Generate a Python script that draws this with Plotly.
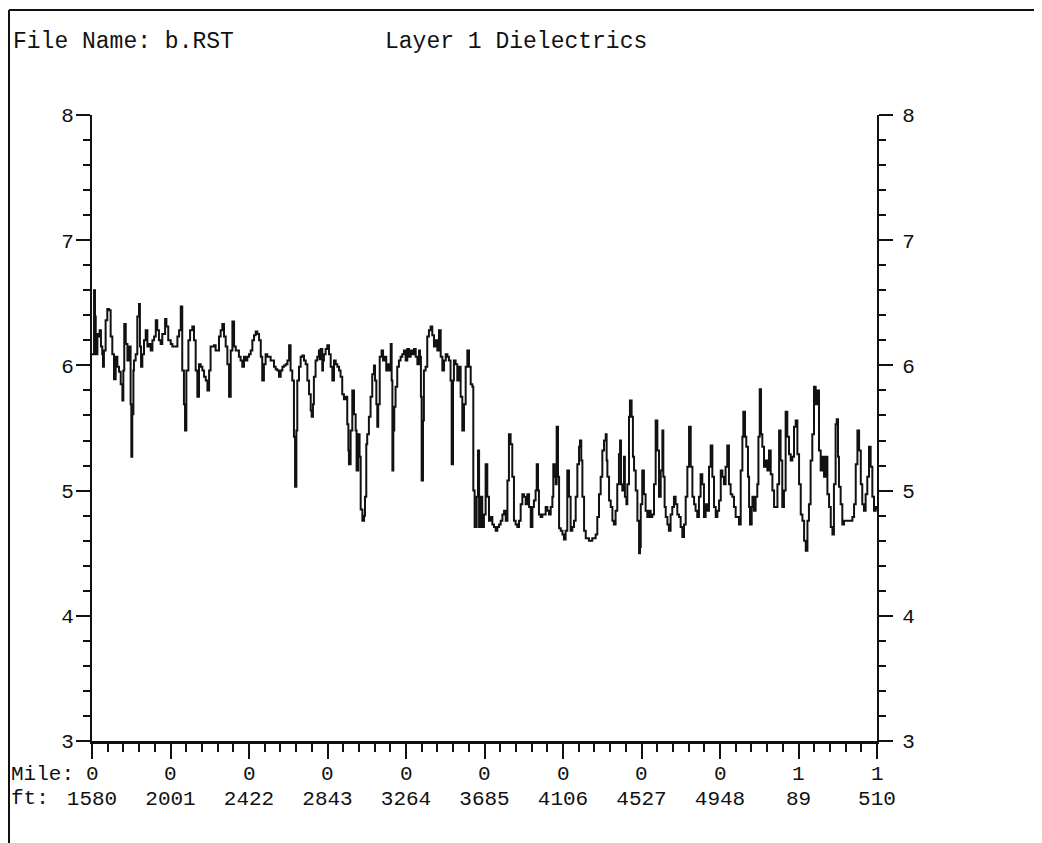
import plotly.graph_objects as go

# ---------------- data ----------------
distance_ft = [
    1580, 1591, 1596, 1600, 1609, 1618, 1621, 1628, 1635, 1639,
    1644, 1653, 1662, 1671, 1680, 1689, 1698, 1707, 1716, 1725,
    1734, 1743, 1748, 1753, 1761, 1770, 1778, 1787, 1791, 1796,
    1802, 1805, 1814, 1823, 1832, 1837, 1843, 1850, 1859, 1868,
    1877, 1886, 1895, 1904, 1913, 1922, 1930, 1939, 1948, 1957,
    1972, 1979, 1989, 2002, 2011, 2020, 2029, 2038, 2047, 2056,
    2064, 2073, 2079, 2086, 2097, 2106, 2118, 2127, 2136, 2145,
    2154, 2163, 2172, 2181, 2190, 2199, 2208, 2216, 2225, 2234,
    2243, 2252, 2261, 2270, 2279, 2288, 2297, 2306, 2315, 2324,
    2333, 2342, 2351, 2359, 2368, 2377, 2386, 2395, 2404, 2413,
    2422, 2431, 2440, 2449, 2458, 2467, 2476, 2485, 2493, 2502,
    2511, 2520, 2529, 2538, 2547, 2556, 2565, 2574, 2583, 2592,
    2601, 2610, 2619, 2628, 2637, 2645, 2654, 2663, 2669, 2676,
    2681, 2690,
    2699, 2708, 2717, 2726, 2735, 2744, 2753, 2758, 2765, 2770,
    2779, 2788, 2797, 2801, 2806, 2815, 2819, 2824, 2833, 2842,
    2851, 2860, 2869, 2878, 2887, 2896, 2905, 2913, 2922, 2931,
    2940, 2949, 2955, 2958, 2967, 2976, 2985, 2994, 2999, 3008,
    3015, 3021, 3030, 3039, 3044, 3051, 3056, 3065, 3074, 3083,
    3092, 3098, 3105, 3110, 3115, 3123, 3133, 3141, 3151, 3158,
    3166, 3173, 3182, 3187, 3191, 3196, 3201, 3208, 3217, 3226,
    3235, 3244, 3253, 3262, 3271, 3280, 3289, 3298, 3307, 3316,
    3325, 3334, 3339, 3344, 3348, 3355, 3360, 3369, 3378, 3387,
    3396, 3405, 3414, 3423, 3432, 3441, 3450, 3459, 3468, 3477,
    3486, 3494, 3503, 3509, 3516, 3521, 3530, 3539, 3548, 3557,
    3566, 3575, 3584, 3593, 3602, 3611, 3620,
    3625, 3632, 3638, 3643, 3650, 3656, 3665, 3673, 3682, 3691,
    3700, 3709, 3718, 3727, 3736, 3745, 3754, 3763, 3772, 3781,
    3790, 3799, 3808, 3816, 3825, 3834, 3843, 3852, 3861, 3870,
    3879, 3888, 3897, 3906, 3915, 3924, 3933, 3942, 3950, 3959,
    3965, 3972, 3977, 3986, 3995, 4004, 4013, 4022, 4031, 4040,
    4049, 4054, 4061, 4067, 4072, 4079, 4085, 4094, 4103, 4111,
    4120, 4129, 4138, 4147, 4156, 4165, 4174, 4183, 4192, 4197,
    4204, 4210, 4219, 4228, 4245, 4263, 4281, 4290, 4299, 4308,
    4317, 4326, 4335, 4340, 4344, 4353, 4362, 4371, 4379, 4388,
    4397, 4406, 4412, 4417, 4424, 4433, 4438, 4446, 4451, 4460,
    4465, 4474, 4481, 4487, 4496, 4505, 4514, 4519, 4523, 4531,
    4540, 4549, 4558, 4567, 4576, 4585, 4594, 4603, 4612, 4621,
    4630, 4639, 4644, 4651, 4657, 4666, 4674, 4683, 4692, 4701,
    4710, 4719, 4728, 4737, 4746, 4755, 4764, 4773, 4782, 4791,
    4800, 4809, 4817, 4826, 4835, 4844, 4853, 4862, 4871, 4880,
    4889, 4898, 4907, 4916, 4925, 4934, 4943, 4952, 4961, 4969,
    4978, 4987, 4996, 5005, 5014, 5023, 5032, 5041, 5050,
    5059, 5068, 5073, 5082, 5089, 5098, 5104, 5109, 5118, 5122,
    5130, 5139, 5148, 5154, 5161, 5168, 5175, 5184, 5193, 5202,
    5211, 5220, 5229, 5238, 5247, 5256, 5265, 5273, 5282, 5291,
    5300, 5309, 5318, 5327, 5336, 5345, 5354, 5363, 5372, 5381,
    5390, 5399, 5408, 5417, 5425, 5434, 5443, 5452, 5461, 5470,
    5479, 5488, 5497, 5506, 5515, 5524, 5533, 5542, 5551, 5559,
    5568, 5574, 5581, 5586, 5595, 5604, 5613, 5622, 5640, 5658,
    5667, 5676, 5685, 5694, 5703, 5711, 5720, 5729, 5738, 5747,
    5756, 5765, 5774, 5783, 5790,
]

dielectric = [
    6.09, 6.60, 6.39, 6.09, 6.25, 6.23, 6.28, 6.15, 6.09, 5.99,
    6.12, 6.36, 6.45, 6.44, 6.23, 6.09, 5.89, 6.07, 5.99, 5.95,
    5.85, 5.72, 5.96, 6.33, 6.17, 6.04, 6.15, 5.69, 5.27, 5.61,
    5.96, 6.04, 6.09, 6.39, 6.49, 6.15, 5.99, 6.09, 6.20, 6.28,
    6.15, 6.17, 6.12, 6.20, 6.23, 6.36, 6.28, 6.20, 6.17, 6.25,
    6.37, 6.31, 6.20, 6.17, 6.15, 6.15, 6.15, 6.23, 6.28, 6.47,
    5.96, 5.69, 5.48, 5.96, 6.20, 6.28, 6.31, 6.20, 5.96, 5.75,
    6.01, 5.99, 5.96, 5.91, 5.88, 5.80, 5.96, 6.15, 6.15, 6.16,
    6.12, 6.12, 6.23, 6.28, 6.33, 6.23, 6.15, 6.01, 5.75, 6.12,
    6.35, 6.15, 6.12, 6.12, 6.07, 6.04, 5.99, 6.07, 6.04, 6.07,
    6.09, 6.12, 6.20, 6.24, 6.27, 6.25, 6.20, 6.07, 5.88, 6.01,
    6.09, 6.07, 6.07, 6.04, 6.04, 5.99, 5.97, 5.96, 5.91, 5.96,
    5.99, 6.00, 6.01, 6.04, 6.16, 5.96, 5.88, 5.43, 5.03, 5.48,
    5.88, 5.99,
    6.07, 6.08, 6.04, 6.01, 5.88, 5.77, 5.64, 5.59, 5.69, 5.91,
    6.04, 6.07, 6.12, 6.05, 6.13, 5.96, 6.04, 6.09, 6.13, 6.16,
    6.09, 5.99, 5.88, 6.04, 6.01, 5.99, 5.96, 5.91, 5.77, 5.73,
    5.75, 5.53, 5.32, 5.21, 5.48, 5.80, 5.61, 5.48, 5.16, 5.45,
    5.27, 4.85, 4.76, 4.80, 4.95, 5.37, 5.45, 5.59, 5.75, 5.93,
    6.00, 5.88, 5.69, 5.51, 5.69, 6.07, 6.12, 6.04, 6.07, 5.96,
    6.01, 5.96, 6.17, 5.88, 5.16, 5.48, 5.67, 5.83, 5.99, 6.04,
    6.07, 6.09, 6.12, 6.04, 6.13, 6.07, 6.12, 6.09, 6.13, 6.07,
    6.01, 6.12, 6.07, 5.75, 5.08, 5.56, 5.96, 5.99, 6.23, 6.28,
    6.31, 6.24, 6.15, 6.20, 6.12, 6.28, 6.07, 5.96, 6.04, 6.09,
    6.07, 6.04, 5.88, 5.21, 5.88, 6.04, 6.01, 5.88, 5.99, 5.75,
    5.48, 5.69, 5.99, 6.12, 5.99, 5.85, 5.83,
    5.00, 4.71, 4.71, 4.95, 5.32, 4.71, 4.95, 4.71, 4.81, 5.21,
    4.95, 4.76, 4.79, 4.73, 4.71, 4.68, 4.71, 4.73, 4.76, 4.81,
    4.84, 4.76, 5.08, 5.45, 5.37, 5.11, 4.76, 4.73, 4.71, 4.76,
    4.89, 4.97, 4.95, 4.89, 4.97, 4.87, 4.71, 4.87, 4.92, 5.00,
    5.21, 5.00, 4.81, 4.79, 4.81, 4.81, 4.87, 4.84, 4.81, 4.87,
    4.95, 5.21, 5.11, 5.05, 5.51, 5.11, 4.70, 4.68, 4.65, 4.61,
    4.68, 5.16, 4.95, 4.68, 4.71, 4.76, 4.95, 5.21, 5.35, 5.40,
    5.24, 4.95, 4.68, 4.62, 4.60, 4.62, 4.65, 4.79, 4.97, 5.11,
    5.32, 5.40, 5.45, 5.24, 5.11, 4.92, 4.87, 4.76, 4.73, 4.84,
    5.05, 5.29, 5.40, 5.05, 5.00, 5.27, 4.95, 4.89, 5.05, 5.59,
    5.72, 5.59, 5.27, 5.16, 5.00, 4.76, 4.50, 4.55, 4.89, 5.16,
    4.97, 4.84, 4.79, 4.84, 4.79, 4.81, 5.05, 5.56, 5.32, 4.95,
    5.16, 5.48, 5.11, 4.87, 4.79, 4.73, 4.68, 4.81, 4.87, 4.95,
    4.89, 4.81, 4.79, 4.71, 4.63, 4.73, 4.95, 5.19, 5.51, 5.19,
    4.95, 4.89, 4.84, 4.79, 4.95, 5.13, 5.05, 4.79, 4.89, 4.84,
    5.19, 5.36, 5.11, 4.87, 4.79, 4.84, 4.92, 5.16, 5.11, 5.05,
    5.19, 5.36, 5.05, 4.97, 4.95, 4.87, 4.79, 4.79, 4.73,
    5.16, 5.43, 5.63, 5.43, 5.35, 5.11, 4.87, 4.73, 4.87, 4.95,
    4.84, 4.95, 5.05, 5.43, 5.81, 5.45, 5.35, 5.19, 5.24, 5.16,
    5.32, 5.13, 5.00, 4.87, 4.87, 5.05, 5.48, 5.24, 4.87, 5.00,
    5.63, 5.43, 5.29, 5.24, 5.27, 5.51, 5.56, 5.29, 5.05, 4.81,
    4.76, 4.60, 4.52, 4.76, 4.89, 5.24, 5.45, 5.83, 5.69, 5.80,
    5.32, 5.16, 5.27, 5.11, 5.27, 4.97, 4.87, 4.71, 4.65, 5.05,
    5.53, 5.57, 5.27, 5.03, 4.89, 4.73, 4.76, 4.76, 4.76, 4.79,
    4.89, 5.21, 5.48, 5.32, 5.05, 4.89, 4.84, 4.97, 5.11, 5.35,
    5.19, 4.95, 4.84, 4.87, 4.85,
]
assert len(distance_ft) == len(dielectric), (len(distance_ft), len(dielectric))

tick_ft = [1580, 2001, 2422, 2843, 3264, 3685, 4106, 4527, 4948, 5369, 5790]
tick_mile_labels = ["0", "0", "0", "0", "0", "0", "0", "0", "0", "1", "1"]
tick_ft_labels = ["1580", "2001", "2422", "2843", "3264", "3685",
                  "4106", "4527", "4948", "89", "510"]
y_range = [3, 8]

title_file = "File Name: b.RST"
title_layer = "Layer 1 Dielectrics"

# ---------------- styling ----------------
FONT = "Liberation Mono"
FS = 21
FS_TITLE = 23
INK = "#111111"
W, H = 1042, 843
OFF = 8  # page body margin offset
# target page positions of the plot area
PAGE_L, PAGE_R, PAGE_T, PAGE_B = 92, 877, 115, 741
L = PAGE_L - OFF
R = W - (PAGE_R - OFF)
T = PAGE_T - OFF
B = H - (PAGE_B - OFF)
PW, PH = W - L - R, H - T - B


def px_x(px):
    """page x pixel -> paper coordinate"""
    return (px - OFF - L) / PW


def px_y(py):
    """page y pixel -> paper coordinate"""
    return (H - B - (py - OFF)) / PH


step = (tick_ft[1] - tick_ft[0]) / 5
minor_x = [tick_ft[0] + i * step for i in range(int(round((tick_ft[-1] - tick_ft[0]) / step)) + 1)]

fig = go.Figure()
fig.add_trace(go.Scatter(
    x=distance_ft, y=dielectric, mode="lines",
    line=dict(color=INK, width=2, shape="hv"),
    showlegend=False, hoverinfo="skip",
))
# empty trace so that the right-hand axis is drawn
fig.add_trace(go.Scatter(x=[], y=[], yaxis="y2", mode="lines",
                         showlegend=False, hoverinfo="skip"))

yaxis_common = dict(
    range=y_range, tickmode="linear", tick0=3, dtick=1,
    ticks="outside", ticklen=14, tickwidth=2, tickcolor=INK,
    showline=True, linecolor=INK, linewidth=2,
    showgrid=False, zeroline=False,
    tickfont=dict(family=FONT, size=FS, color=INK),
    minor=dict(ticks="outside", ticklen=7, tickwidth=2, tickcolor=INK,
               tick0=3, dtick=0.2, showgrid=False),
)

fig.update_layout(
    width=W, height=H,
    margin=dict(l=L, r=R, t=T, b=B, pad=0),
    paper_bgcolor="white", plot_bgcolor="white",
    showlegend=False,
    xaxis=dict(
        range=[tick_ft[0], tick_ft[-1]],
        tickmode="array", tickvals=tick_ft, ticktext=tick_ft_labels,
        ticks="outside", ticklen=15, tickwidth=2, tickcolor=INK,
        showline=True, linecolor=INK, linewidth=3,
        showgrid=False, zeroline=False,
        tickfont=dict(family=FONT, size=FS, color=INK),
        ticklabelstandoff=21,
        minor=dict(ticks="outside", ticklen=8, tickwidth=2, tickcolor=INK,
                   tickmode="array", tickvals=minor_x, showgrid=False),
    ),
    yaxis=dict(side="left", ticklabelstandoff=-2, **yaxis_common),
    yaxis2=dict(side="right", overlaying="y", anchor="x", ticklabelstandoff=5, **yaxis_common),
)

annotations = []
for xv, lab in zip(tick_ft, tick_mile_labels):
    annotations.append(dict(x=xv, xref="x", y=px_y(774), yref="paper",
                            text=lab, showarrow=False, xanchor="center", yanchor="middle",
                            font=dict(family=FONT, size=FS, color=INK)))
annotations.append(dict(x=px_x(9), xref="paper", y=px_y(774), yref="paper",
                        text="Mile:", showarrow=False, xanchor="left", yanchor="middle",
                        font=dict(family=FONT, size=FS, color=INK)))
annotations.append(dict(x=px_x(9), xref="paper", y=px_y(798), yref="paper",
                        text="ft:", showarrow=False, xanchor="left", yanchor="middle",
                        font=dict(family=FONT, size=FS, color=INK)))
annotations.append(dict(x=px_x(11), xref="paper", y=px_y(42), yref="paper",
                        text=title_file, showarrow=False, xanchor="left", yanchor="middle",
                        font=dict(family=FONT, size=FS_TITLE, color=INK)))
annotations.append(dict(x=px_x(383), xref="paper", y=px_y(42), yref="paper",
                        text=title_layer, showarrow=False, xanchor="left", yanchor="middle",
                        font=dict(family=FONT, size=FS_TITLE, color=INK)))
fig.update_layout(annotations=annotations)

# outer frame (top and left edges)
fig.add_shape(type="line", xref="paper", yref="paper",
              x0=px_x(9), x1=px_x(1050), y0=px_y(10), y1=px_y(10),
              line=dict(color=INK, width=2))
fig.add_shape(type="line", xref="paper", yref="paper",
              x0=px_x(9), x1=px_x(9), y0=px_y(10), y1=px_y(851),
              line=dict(color=INK, width=2))

fig.write_html("out.html")
